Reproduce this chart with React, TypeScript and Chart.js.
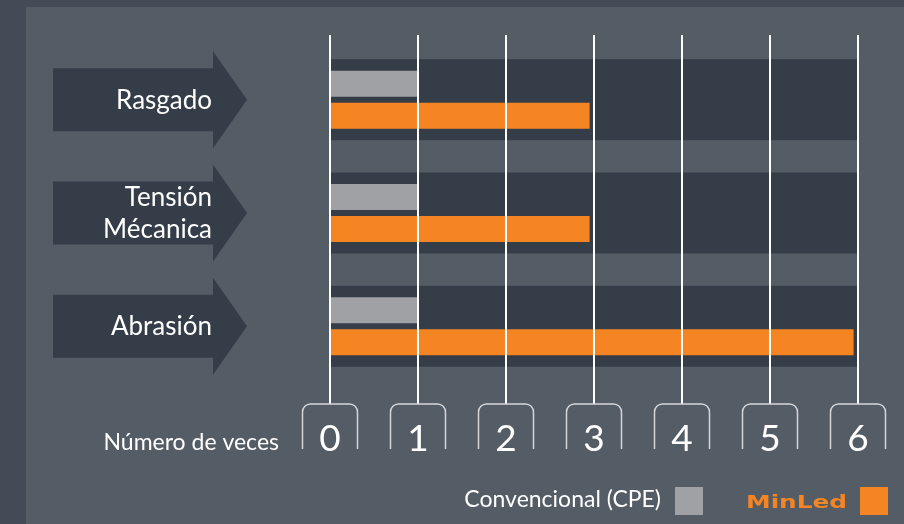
import React, { useEffect, useRef } from "react";
import { Chart, registerables } from "chart.js";

Chart.register(...registerables);

const categories: string[][] = [["Rasgado"], ["Tensión", "Mécanica"], ["Abrasión"]];
const conventionalValues = [1, 1, 1];
const minledValues = [2.95, 2.95, 5.95];
const tickValues = [0, 1, 2, 3, 4, 5, 6];
const seriesNames = ["Convencional (CPE)", "MinLed"];
const axisTitle = "Número de veces";

const COLORS = {
  outer: "#434c56",
  panel: "#545c66",
  band: "#343d48",
  gray: "#a0a1a5",
  orange: "#f58423",
  white: "#ffffff",
  bracket: "#d4d5d7",
};

const FONT = "Lato, 'Open Sans', sans-serif";

const decorPlugin = {
  id: "decor",
  beforeDraw(chart: any) {
    const { ctx, width, height, chartArea } = chart;
    const yScale = chart.scales.y;
    ctx.save();
    ctx.fillStyle = COLORS.outer;
    ctx.fillRect(0, 0, width, height);
    ctx.fillStyle = COLORS.panel;
    ctx.fillRect(26, 7, width - 26, height - 7);
    const pitch = yScale.getPixelForValue(1) - yScale.getPixelForValue(0);
    const half = pitch * 0.357;
    ctx.fillStyle = COLORS.band;
    categories.forEach((_, i) => {
      const cy = yScale.getPixelForValue(i);
      ctx.fillRect(chartArea.left, cy - half, chartArea.right - chartArea.left, half * 2);
      // arrow
      ctx.beginPath();
      ctx.moveTo(53, cy - 31.5);
      ctx.lineTo(213, cy - 31.5);
      ctx.lineTo(213, cy - 48.5);
      ctx.lineTo(247, cy);
      ctx.lineTo(213, cy + 48.5);
      ctx.lineTo(213, cy + 31.5);
      ctx.lineTo(53, cy + 31.5);
      ctx.closePath();
      ctx.fill();
    });
    ctx.restore();
  },
  afterDatasetsDraw(chart: any) {
    const { ctx, chartArea } = chart;
    const xScale = chart.scales.x;
    const yScale = chart.scales.y;
    ctx.save();
    const gridTop = chartArea.top - 8;
    const boxTop = chartArea.bottom + 21;
    const boxBottom = boxTop + 45;
    const bw = 27.5;
    const r = 8;
    tickValues.forEach((v) => {
      const x = Math.round(xScale.getPixelForValue(v));
      ctx.strokeStyle = COLORS.white;
      ctx.lineWidth = 2;
      ctx.beginPath();
      ctx.moveTo(x, gridTop);
      ctx.lineTo(x, boxTop);
      ctx.stroke();
      ctx.strokeStyle = COLORS.bracket;
      ctx.lineWidth = 1.5;
      ctx.beginPath();
      ctx.moveTo(x - bw, boxBottom);
      ctx.lineTo(x - bw, boxTop + r);
      ctx.arcTo(x - bw, boxTop, x - bw + r, boxTop, r);
      ctx.lineTo(x + bw - r, boxTop);
      ctx.arcTo(x + bw, boxTop, x + bw, boxTop + r, r);
      ctx.lineTo(x + bw, boxBottom);
      ctx.stroke();
      ctx.fillStyle = COLORS.white;
      ctx.font = `37px ${FONT}`;
      ctx.textAlign = "center";
      ctx.textBaseline = "alphabetic";
      ctx.fillText(String(v), x, boxBottom + 2);
    });

    // category labels in arrows
    ctx.fillStyle = COLORS.white;
    ctx.font = `26px ${FONT}`;
    ctx.textAlign = "right";
    ctx.textBaseline = "alphabetic";
    categories.forEach((lines, i) => {
      const cy = yScale.getPixelForValue(i);
      const lh = 32;
      const first = cy + 9 - ((lines.length - 1) * lh) / 2;
      lines.forEach((t, j) => ctx.fillText(t, 212, first + j * lh));
    });

    // axis title
    ctx.font = `23px ${FONT}`;
    ctx.fillText(axisTitle, 279, boxBottom + 1);

    // legend
    ctx.font = `23px ${FONT}`;
    ctx.fillText(seriesNames[0], 661, 507);
    ctx.fillStyle = COLORS.gray;
    ctx.fillRect(675, 487, 28, 28);

    ctx.font = `bold 18px 'DejaVu Sans', sans-serif`;
    const w = ctx.measureText(seriesNames[1]).width;
    const target = 101;
    ctx.save();
    ctx.translate(847, 508);
    ctx.scale(target / w, 1);
    ctx.fillStyle = COLORS.orange;
    ctx.textAlign = "right";
    ctx.fillText(seriesNames[1], 0, 0);
    ctx.restore();
    ctx.fillStyle = COLORS.orange;
    ctx.fillRect(860, 487, 28, 28);
    ctx.restore();
  },
};

export default function App() {
  const ref = useRef<HTMLCanvasElement | null>(null);
  useEffect(() => {
    if (!ref.current) return;
    const chart = new Chart(ref.current, {
      type: "bar",
      data: {
        labels: categories,
        datasets: [
          {
            label: seriesNames[0],
            data: conventionalValues,
            backgroundColor: COLORS.gray,
            borderWidth: 0,
            categoryPercentage: 0.565,
            barPercentage: 0.81,
          },
          {
            label: seriesNames[1],
            data: minledValues,
            backgroundColor: COLORS.orange,
            borderWidth: 0,
            categoryPercentage: 0.565,
            barPercentage: 0.81,
          },
        ],
      },
      options: {
        indexAxis: "y",
        animation: false,
        responsive: false,
        maintainAspectRatio: false,
        devicePixelRatio: 1,
        layout: { padding: { left: 330, right: 46, top: 43, bottom: 141 } },
        scales: {
          x: { type: "linear", min: 0, max: 6, display: false },
          y: { type: "category", display: false },
        },
        plugins: {
          legend: { display: false },
          tooltip: { enabled: false },
        },
      },
      plugins: [decorPlugin],
    } as any);
    document.fonts?.ready.then(() => chart.draw());
    return () => chart.destroy();
  }, []);
  return (
    <div style={{ position: "fixed", left: 0, top: 0, width: 904, height: 524 }}>
      <canvas ref={ref} width={904} height={524} style={{ display: "block", width: 904, height: 524 }} />
    </div>
  );
}
